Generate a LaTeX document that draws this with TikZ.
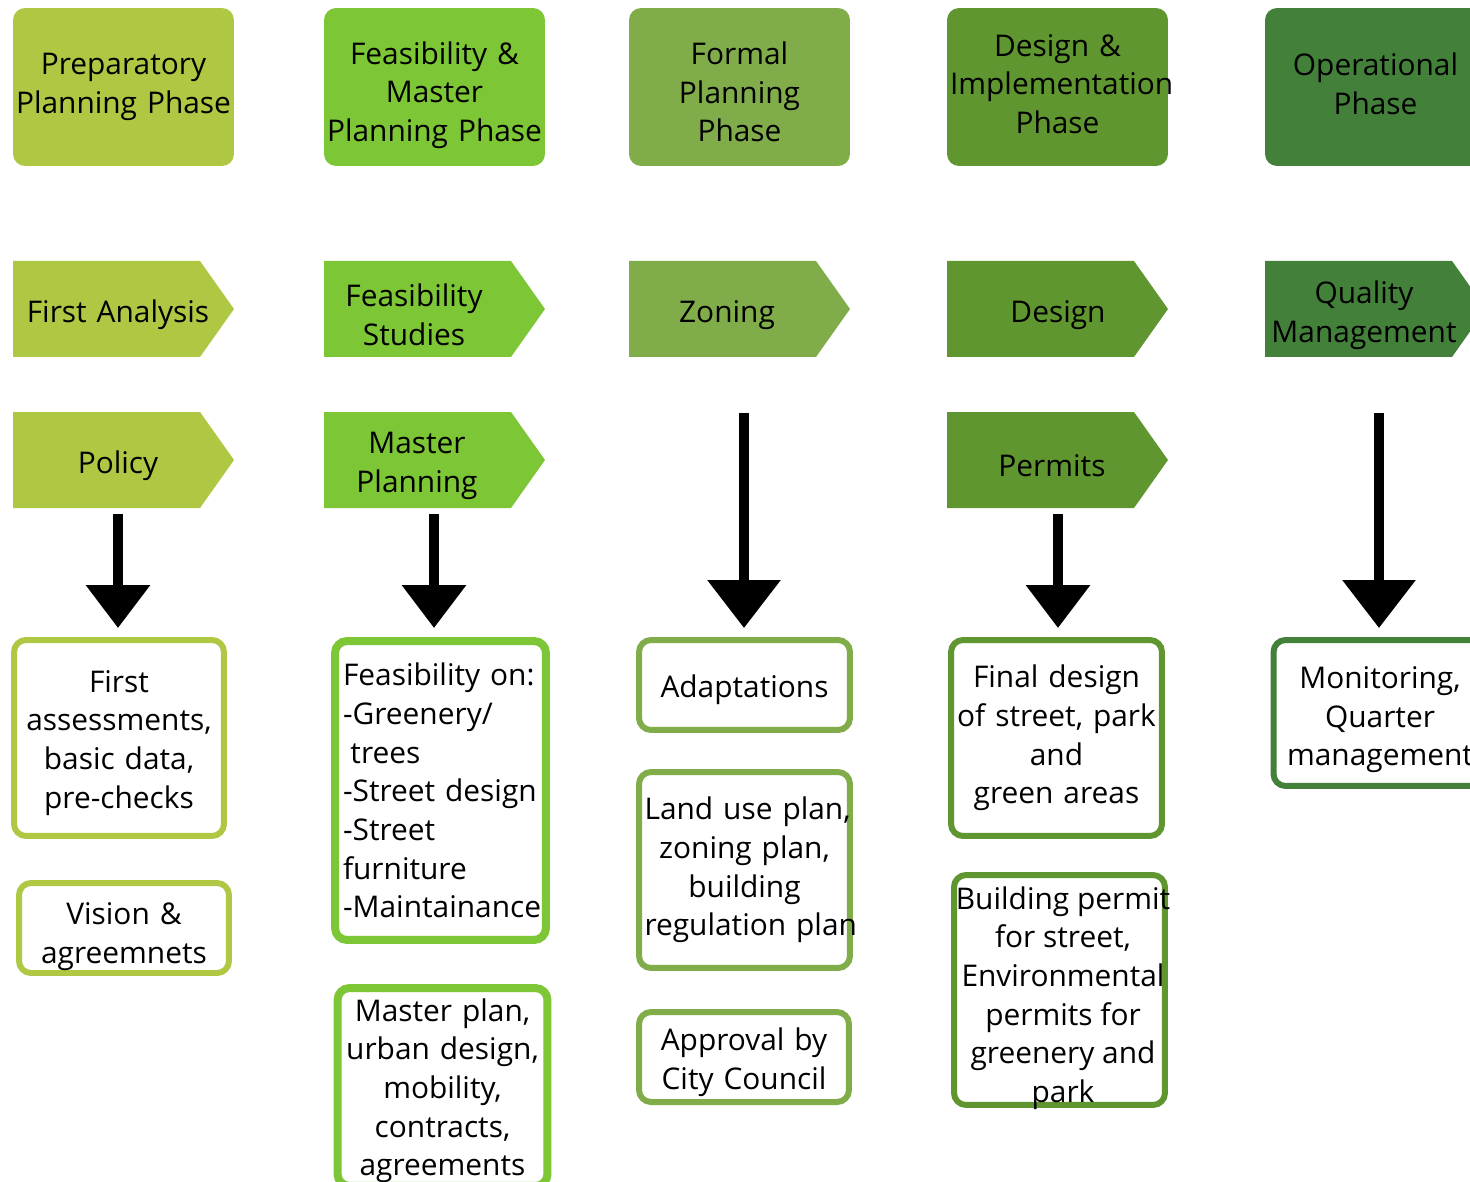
\documentclass[tikz,border=0pt]{standalone}
\usepackage{fontspec}
\setmainfont{Open Sans}
\usepackage{tikz}
\usetikzlibrary{arrows.meta,calc,positioning}
\definecolor{phaseA}{HTML}{AEC843}
\definecolor{phaseB}{HTML}{7DC635}
\definecolor{phaseC}{HTML}{80AC4A}
\definecolor{phaseD}{HTML}{5F962F}
\definecolor{phaseE}{HTML}{43803A}
\tikzset{
	txt/.style={font=\fontsize{17}{22}\selectfont, text=black},
	tdown/.style={text height=#1},
	phasebox/.style={txt, rectangle, rounded corners=0.24cm, minimum width=4.42cm, minimum height=3.16cm, text width=4.3cm, align=center, inner sep=0pt},
	stepname/.style={txt, rectangle, minimum width=4.42cm, minimum height=1.92cm, text width=4.3cm, align=center, inner sep=0pt},
	outbox/.style={txt, draw, line width=0.12cm, fill=white, rounded corners=0.24cm, text width=4.0cm, align=center, inner xsep=0.1cm, inner ysep=0pt},
	bigarrow/.style={line width=0.2cm, -{Triangle[width=1.24cm,length=0.86cm]}, shorten >=0.18cm},
	longarrow/.style={bigarrow, -{Triangle[width=1.42cm,length=0.96cm]}}
}

\begin{document}
\begin{tikzpicture}[x=0.02cm, y=-0.02cm]
	\useasboundingbox (0,0) rectangle (1470,1182);
	
	% phases
	\node[phasebox, fill=phaseA] (prep) at (123.5,87) {Preparatory\\Planning Phase};
	\node[phasebox, fill=phaseB, tdown=22pt] (feas) at (434.5,87) {Feasibility \&\\Master\\Planning Phase};
	\node[phasebox, fill=phaseC, tdown=18.6pt] (formal) at (739.5,87) {Formal\\Planning\\Phase};
	\node[phasebox, fill=phaseD, tdown=9pt] (impl) at (1057.5,87) {Design \&\\\mbox{Implementation}\\Phase};
	\node[phasebox, fill=phaseE, tdown=9.5pt] (oper) at (1375.5,87) {Operational\\Phase};
	
	% chevrons
	\foreach \cx/\cy/\col in {123.5/309/phaseA, 123.5/460/phaseA, 434.5/309/phaseB, 434.5/460/phaseB, 739.5/309/phaseC, 1057.5/309/phaseD, 1057.5/460/phaseD, 1375.5/309/phaseE}
		\fill[\col] (\cx,\cy) ++(-110.5,-48) -- ++(187,0) -- ++(34,48) -- ++(-34,48) -- ++(-187,0) -- cycle;
	
	\node[stepname] (analysis) at (118,315) {First Analysis};
	\node[stepname] (policy) at (118,466) {Policy};
	\node[stepname] (studies) at (414,315) {Feasibility\\Studies};
	\node[stepname] (masterpl) at (417,466) {Master\\Planning};
	\node[stepname] (zoning) at (727,315) {Zoning};
	\node[stepname] (design) at (1058,315) {Design};
	\node[stepname] (permits) at (1052,466) {Permits};
	\node[stepname] (quality) at (1364,315) {Quality\\Management};
	
	% outcomes
	\node[outbox, draw=phaseA, tdown=18pt, minimum width=4.2cm, minimum height=3.92cm] (assess) at (119,738) {First\\assessments,\\basic data,\\pre-checks};
	\node[outbox, draw=phaseA, tdown=22.6pt, minimum width=4.2cm, minimum height=1.8cm] (vision) at (124,928) {Vision \&\\agreemnets};
	
	\node[outbox, draw=phaseB, line width=0.16cm, align=left, text width=3.9cm, inner xsep=0.16cm, minimum width=4.22cm, minimum height=5.98cm] (feason) at (440.5,790.5) {Feasibility on:\\-Greenery/\\\hspace*{0.25em}trees\\\mbox{-Street design}\\-Street\\furniture\\\mbox{-Maintainance}};
	\node[outbox, draw=phaseB, line width=0.16cm, tdown=17pt, minimum width=4.18cm, minimum height=3.96cm] (masterplan) at (442.5,1087) {Master plan,\\urban design,\\mobility,\\contracts,\\agreements};
	
	\node[outbox, draw=phaseC, tdown=18pt, minimum width=4.22cm, minimum height=1.8cm] (adapt) at (744.5,685) {Adaptations};
	\node[outbox, draw=phaseC, minimum width=4.22cm, minimum height=3.92cm] (landuse) at (744.5,870) {\mbox{Land use plan,}\\zoning plan,\\building\\\mbox{regulation plan}};
	\node[outbox, draw=phaseC, tdown=18.5pt, minimum width=4.2cm, minimum height=1.8cm] (approval) at (744,1057) {Approval by\\City Council};
	
	\node[outbox, draw=phaseD, minimum width=4.22cm, minimum height=3.92cm] (final) at (1056.5,738) {Final design\\\mbox{of street, park}\\and\\green areas};
	\node[outbox, draw=phaseD, minimum width=4.22cm, minimum height=4.6cm] (permit) at (1059.5,990) {};
	\node[txt, align=center, inner sep=0pt] (permittxt) at (1063,998) {Building permit\\for street,\\Environmental\\permits for\\greenery and\\park};
	
	\node[outbox, draw=phaseE, tdown=20.3pt, minimum width=4.26cm, minimum height=2.92cm] (monitor) at (1380,713) {Monitoring,\\Quarter\\\mbox{management}};
	
	% arrows
	\coordinate (polarr) at (118,514);
	\coordinate (mastarr) at (434,514);
	\coordinate (zonearr) at (744,413);
	\coordinate (permarr) at (1058,514);
	\coordinate (qualarr) at (1379,413);
	\draw[bigarrow] (polarr) -- (polarr |- assess.north);
	\draw[bigarrow] (mastarr) -- (mastarr |- feason.north);
	\draw[longarrow] (zonearr) -- (zonearr |- adapt.north);
	\draw[bigarrow] (permarr) -- (permarr |- final.north);
	\draw[longarrow] (qualarr) -- (qualarr |- monitor.north);
\end{tikzpicture}
\end{document}
